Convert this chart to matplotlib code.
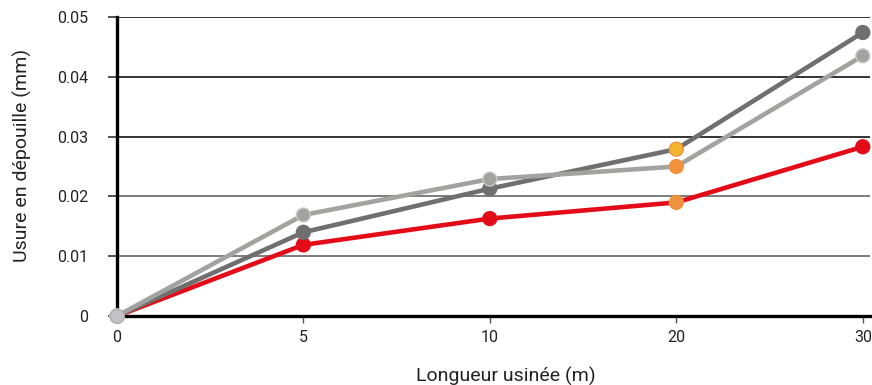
import matplotlib.pyplot as plt

# --- Data ---
lengths = ['0', '5', '10', '20', '30']          # Longueur usinée (m), equally spaced categories
wear_dark = [0.0, 0.0140, 0.0213, 0.0279, 0.0474]
wear_light = [0.0, 0.0169, 0.0229, 0.0250, 0.0435]
wear_red = [0.0, 0.0119, 0.0163, 0.0190, 0.0283]
y_ticks = [0, 0.01, 0.02, 0.03, 0.04, 0.05]
y_tick_labels = ['0', '0.01', '0.02', '0.03', '0.04', '0.05']

# --- Styles ---
plt.rcParams['font.family'] = ['Roboto', 'DejaVu Sans']
dark_gray = '#6f6f6f'
light_gray = '#a2a2a1'
red = '#e30b17'
orange = '#f0923d'
yellow = '#f2b52c'
zero_gray = '#c3c1c6'

fig = plt.figure(figsize=(8.72, 3.85), dpi=100)
ax = fig.add_axes([0.134, 0.179, 0.864, 0.777])

x = list(range(len(lengths)))

# horizontal grid lines: upper ones black, lower ones gray
grid_colors = ['#666666', '#666666', '#666666', '#111111', '#111111', '#111111']
for val, col in zip(y_ticks[1:], grid_colors[1:]):
    ax.axhline(val, color=col, lw=1.2, zorder=1)

series = [
    (wear_red, red, [zero_gray, red, red, orange, red], [zero_gray, red, red, orange, red]),
    (wear_dark, dark_gray, [zero_gray, dark_gray, dark_gray, yellow, dark_gray],
     [zero_gray, dark_gray, dark_gray, orange, dark_gray]),
    (wear_light, light_gray, [zero_gray, light_gray, light_gray, orange, light_gray],
     [zero_gray, '#c9c9c9', '#c9c9c9', orange, '#c9c9c9']),
]
for i, (vals, col, face, edge) in enumerate(series):
    ax.plot(x, vals, color=col, lw=3.3, zorder=3 + i, clip_on=False, solid_capstyle='round')
    ax.scatter(x, vals, s=100, c=face, edgecolors=edge, linewidths=1.0,
               zorder=6 + i, clip_on=False)

# zero point on top of everything
ax.scatter([x[0]], [wear_red[0]], s=100, c=zero_gray, edgecolors='#b0aeb3',
           linewidths=0.8, zorder=10, clip_on=False)

ax.set_xlim(0, 4.04)
ax.set_ylim(0, 0.05)
ax.set_xticks(x)
ax.set_xticklabels(lengths)
ax.set_yticks(y_ticks)
ax.set_yticklabels(y_tick_labels)

for s in ['top', 'right']:
    ax.spines[s].set_visible(False)
ax.spines['left'].set_linewidth(2.4)
ax.spines['bottom'].set_linewidth(2.4)
ax.spines['left'].set_zorder(2)
ax.spines['bottom'].set_zorder(2)

ax.tick_params(axis='y', length=6.5, width=1.2, color='#333333', pad=14,
               labelsize=11.5, labelcolor='#222222')
ax.tick_params(axis='x', length=5, width=1.0, color='#555555', pad=5,
               labelsize=11.5, labelcolor='#222222')

ax.set_ylabel('Usure en dépouille (mm)', fontsize=14, color='#222222')
ax.yaxis.set_label_coords(-0.113, 0.538)
ax.set_xlabel('Longueur usinée (m)', fontsize=14, color='#222222')
ax.xaxis.set_label_coords(0.516, -0.17)

fig.savefig('out.png', dpi=100)
